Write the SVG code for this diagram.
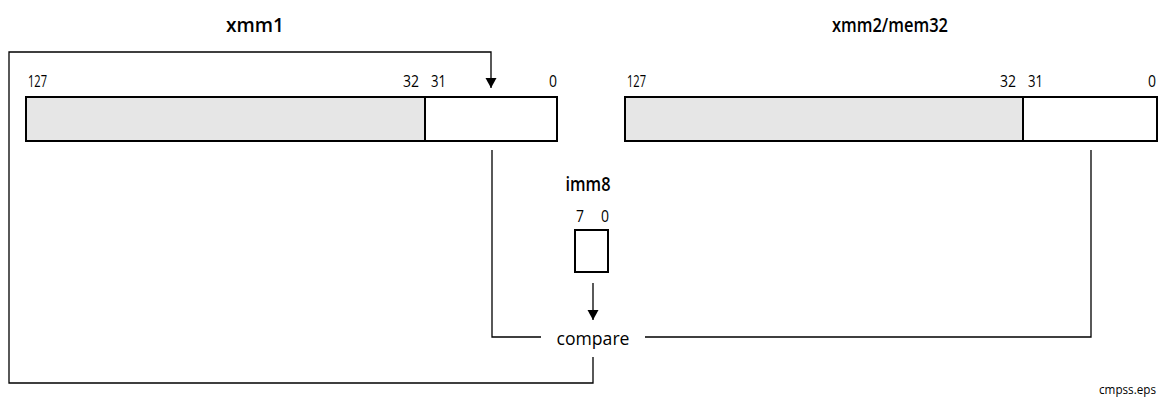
<svg xmlns="http://www.w3.org/2000/svg" width="1164" height="404" viewBox="0 0 1164 404">
<style>
.t{font-family:"Open Sans","DejaVu Sans Condensed",sans-serif;fill:#000}
.title{font-size:20px;font-weight:600;text-anchor:middle}
.bit{font-size:16px}
.gray{fill:#e6e6e6;stroke:#000;stroke-width:2}
.white{fill:#fff;stroke:#000;stroke-width:2}
.ln{fill:none;stroke:#000;stroke-width:1.3}
</style>
<defs>
<marker id="ah" markerWidth="10" markerHeight="12" refX="10" refY="5.5" orient="auto" markerUnits="userSpaceOnUse">
<path d="M0,0 L10,5.5 L0,11 Z" fill="#000"/>
</marker>
</defs>
<rect width="1164" height="404" fill="#fff"/>
<g id="xmm1">
<text class="t title" x="255" y="32" textLength="58" lengthAdjust="spacingAndGlyphs">xmm1</text>
<rect class="gray" x="26" y="97" width="399" height="44"/>
<rect class="white" x="425" y="97" width="132" height="44"/>
<text class="t bit" x="28" y="87" textLength="19" lengthAdjust="spacingAndGlyphs">127</text>
<text class="t bit" x="403" y="87" textLength="16" lengthAdjust="spacingAndGlyphs">32</text>
<text class="t bit" x="431" y="87" textLength="15" lengthAdjust="spacingAndGlyphs">31</text>
<text class="t bit" x="549" y="87" textLength="8" lengthAdjust="spacingAndGlyphs">0</text>
</g>
<g id="xmm2">
<text class="t title" x="890" y="32" textLength="116" lengthAdjust="spacingAndGlyphs">xmm2/mem32</text>
<rect class="gray" x="625" y="97" width="398" height="44"/>
<rect class="white" x="1023" y="97" width="134" height="44"/>
<text class="t bit" x="627" y="87" textLength="19" lengthAdjust="spacingAndGlyphs">127</text>
<text class="t bit" x="1000" y="87" textLength="16" lengthAdjust="spacingAndGlyphs">32</text>
<text class="t bit" x="1028" y="87" textLength="15" lengthAdjust="spacingAndGlyphs">31</text>
<text class="t bit" x="1148" y="87" textLength="8" lengthAdjust="spacingAndGlyphs">0</text>
</g>
<g id="imm8">
<text class="t title" x="588" y="191" textLength="45" lengthAdjust="spacingAndGlyphs">imm8</text>
<text class="t bit" x="576" y="222" textLength="8" lengthAdjust="spacingAndGlyphs">7</text>
<text class="t bit" x="601" y="222" textLength="8" lengthAdjust="spacingAndGlyphs">0</text>
<rect class="white" x="575" y="230" width="33" height="42"/>
</g>
<g id="compare">
<text class="t" x="593" y="345" font-size="19" text-anchor="middle" textLength="73" lengthAdjust="spacingAndGlyphs">compare</text>
</g>
<g id="connectors">
<path class="ln" d="M492,150 V337 H541"/>
<path class="ln" d="M1091,150 V337 H645"/>
<path class="ln" d="M593,283 V320" marker-end="url(#ah)"/>
<path class="ln" d="M593,357 V383 H9 V52 H491 V88" marker-end="url(#ah)"/>
</g>
<text class="t" x="1156" y="394" font-size="12" text-anchor="end" textLength="57" lengthAdjust="spacingAndGlyphs">cmpss.eps</text>
</svg>
